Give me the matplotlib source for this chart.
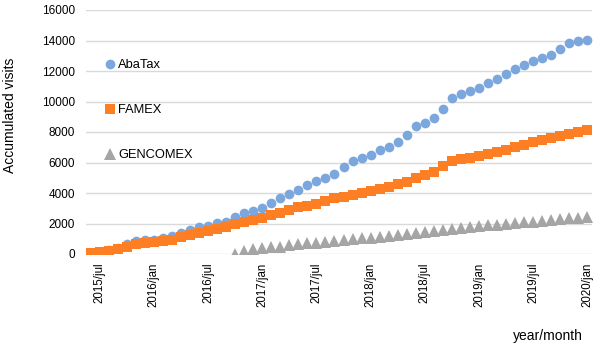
import numpy as np
import matplotlib
matplotlib.use('Agg')
import matplotlib.pyplot as plt

matplotlib.rcParams['font.family'] = ['Liberation Sans', 'DejaVu Sans']

# monthly categories 2015/jun .. 2020/jan
months = ['jan', 'feb', 'mar', 'apr', 'may', 'jun',
          'jul', 'aug', 'sep', 'oct', 'nov', 'dec']
labels = []
for year in range(2015, 2021):
    for m in months:
        labels.append('%d/%s' % (year, m))
labels = labels[labels.index('2015/jun'):labels.index('2020/jan') + 1]

abatax = [50, 120, 250, 420, 650, 850, 900, 920, 1050, 1180,
          1380, 1570, 1770, 1840, 2030, 2120, 2400, 2700, 2840, 3040,
          3320, 3650, 3930, 4200, 4520, 4760, 5000, 5270, 5700, 6100,
          6290, 6510, 6800, 7040, 7350, 7800, 8390, 8590, 8900, 9500,
          10220, 10510, 10680, 10900, 11190, 11470, 11800, 12130, 12390, 12670,
          12870, 13050, 13420, 13810, 13970, 14030]

famex = [50, 100, 200, 300, 450, 650, 720, 780, 820, 950,
         1100, 1250, 1380, 1530, 1650, 1800, 1950, 2100, 2240, 2390,
         2550, 2700, 2880, 3050, 3150, 3250, 3450, 3650, 3760, 3880,
         4010, 4140, 4260, 4390, 4560, 4750, 4960, 5180, 5380, 5770,
         6100, 6210, 6320, 6430, 6560, 6690, 6850, 7020, 7180, 7340,
         7470, 7600, 7740, 7870, 8000, 8130]

gencomex = [None] * 16 + [
    0, 200, 300, 370, 430, 480, 560, 640, 700, 740,
    800, 860, 920, 980, 1020, 1080, 1130, 1180, 1240, 1300,
    1370, 1430, 1500, 1580, 1650, 1700, 1760, 1820, 1880, 1930,
    1980, 2030, 2080, 2130, 2180, 2230, 2280, 2330, 2380, 2420]

x = np.arange(len(labels))
gen = np.array([np.nan if v is None else v for v in gencomex], dtype=float)

fig = plt.figure(figsize=(6, 3.51), dpi=100)
ax = fig.add_axes([86 / 600, 1 - 254 / 351, 506 / 600, 244 / 351])

ax.plot(x, abatax, 'o', color='#7ba7dd', markersize=7,
        markeredgewidth=0, label='AbaTax')
ax.plot(x, famex, 's', color='#fd7e23', markersize=7.3,
        markeredgewidth=0, label='FAMEX')
ax.plot(x, gen, '^', color='#a5a5a5', markersize=8,
        markeredgewidth=0, label='GENCOMEX')

ax.set_xlim(-0.5, len(labels) - 0.5)
ax.set_ylim(0, 16000)
ax.set_yticks(np.arange(0, 16001, 2000))
ax.yaxis.grid(True, color='#d9d9d9', linewidth=1)
ax.set_axisbelow(True)
for s in ax.spines.values():
    s.set_visible(False)

tick_pos = x[1::6]
ax.set_xticks(tick_pos)
ax.set_xticklabels([labels[i] for i in tick_pos], rotation=90, fontsize=8.3)
ax.tick_params(axis='both', length=0, colors='#000000')
ax.tick_params(axis='y', labelsize=8.5, pad=8)
ax.tick_params(axis='x', pad=6)

fig.text(10 / 600, 1 - 115 / 351, 'Accumulated visits', rotation=90,
         ha='center', va='center', fontsize=10)
fig.text(548 / 600, 1 - 336 / 351, 'year/month', ha='center',
         va='center', fontsize=10)

ax.legend(loc='upper left', bbox_to_anchor=(0.03, 0.82), frameon=False,
          fontsize=9.3, labelspacing=2.55, handlelength=0.6,
          handletextpad=0.3, borderaxespad=0)

fig.savefig('out.png', dpi=100)
